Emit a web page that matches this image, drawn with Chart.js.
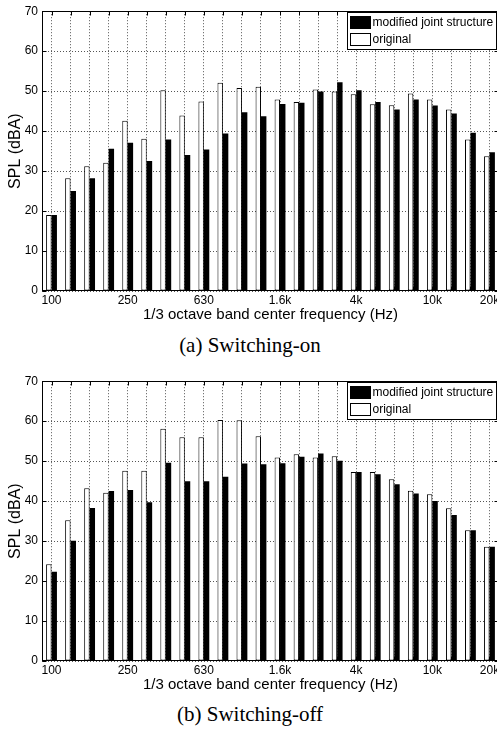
<!DOCTYPE html>
<html>
<head>
<meta charset="utf-8">
<script src="https://cdn.jsdelivr.net/npm/chart.js@4/dist/chart.umd.min.js"></script>
<style>
    body { margin: 0; width: 497px; height: 734px; overflow: hidden; background: #fff; position: relative; }
    .plot { position: absolute; left: 0; width: 520px; height: 330px; }
    .caption { position: absolute; left: 0; width: 500px; text-align: center; font-family: 'Liberation Serif', 'Times New Roman', serif; font-size: 21px; color: #000; }
</style>
</head>
<body>
    <div class="plot" style="top: 0px;"><canvas id="switching_on" width="520" height="330"></canvas></div>
    <div class="caption" style="top: 333px;">(a) Switching-on</div>
    <div class="plot" style="top: 370px;"><canvas id="switching_off" width="520" height="330"></canvas></div>
    <div class="caption" style="top: 702px;">(b) Switching-off</div>

<script>
// 1/3 octave bands, only some get a label on the axis
const bands = ['100', '125', '160', '200', '250', '315', '400', '500', '630', '800', '1k', '1.25k',
    '1.6k', '2k', '2.5k', '3.15k', '4k', '5k', '6.3k', '8k', '10k', '12.5k', '16k', '20k']
const tickLabels = ['100', '250', '630', '1.6k', '4k', '10k', '20k']
const yTicks = [0, 10, 20, 30, 40, 50, 60, 70]

// (a) switching-on, SPL in dBA
const onOriginal = [19, 28.2, 31.2, 32.1, 42.6, 38.1, 50.2, 43.9, 47.4, 52.1, 50.8, 51.1,
    47.9, 47.3, 50.4, 49.9, 49.2, 46.7, 46.5, 49.4, 47.9, 45.4, 37.9, 33.7]
const onModified = [19, 25, 28.2, 35.6, 37.1, 32.5, 37.9, 34, 35.4, 39.4, 44.7, 43.7,
    46.8, 47.1, 49.9, 52.2, 50.2, 47.3, 45.4, 47.9, 46.4, 44.4, 39.6, 34.7]

// (b) switching-off, SPL in dBA
const offOriginal = [24.2, 35.2, 43.2, 42.1, 47.6, 47.6, 58.1, 56, 56, 60.3, 60.2, 56.2,
    50.9, 51.7, 50.9, 51.2, 47.3, 47.3, 45.5, 42.6, 41.7, 38.2, 32.7, 28.6]
const offModified = [22.3, 30.1, 38.3, 42.5, 42.8, 39.7, 49.6, 45, 45, 46.1, 49.4, 49.2,
    49.5, 51.1, 51.9, 50.1, 47.3, 46.7, 44.2, 41.9, 40, 36.5, 32.7, 28.6]

Chart.defaults.font.family = "'Liberation Sans', Arial, sans-serif"
Chart.defaults.color = '#000'

// matlab style box with inward ticks, plus the legend in the top right corner
const matlabBox = {
    id: 'matlabBox',
    afterDatasetsDraw(chart) {
        const { ctx, chartArea: a, scales: { x, y } } = chart
        ctx.save()
        ctx.strokeStyle = '#000'
        ctx.lineWidth = 1
        const l = Math.round(a.left) + 0.5, r = Math.round(a.right) - 0.5
        const t = Math.round(a.top) + 0.5, b = Math.round(a.bottom) - 0.5
        ctx.beginPath()
        bands.forEach((_, i) => {
            const px = Math.round(x.getPixelForTick(i)) + 0.5
            ctx.moveTo(px, b); ctx.lineTo(px, b - 4)
            ctx.moveTo(px, t); ctx.lineTo(px, t + 4)
        })
        yTicks.forEach(v => {
            const py = Math.round(y.getPixelForValue(v)) + 0.5
            ctx.moveTo(l, py); ctx.lineTo(l + 4, py)
            ctx.moveTo(r, py); ctx.lineTo(r - 4, py)
        })
        ctx.stroke()
        ctx.strokeRect(l, t, r - l, b - t)
        ctx.restore()
    },
    afterDraw(chart) {
        const { ctx } = chart
        const sets = chart.data.datasets.slice().reverse()
        const bx = 347.5, by = 12.5, bw = 149, bh = 37
        ctx.save()
        ctx.fillStyle = '#fff'
        ctx.fillRect(bx, by, bw, bh)
        ctx.strokeStyle = '#000'
        ctx.lineWidth = 1
        ctx.strokeRect(bx, by, bw, bh)
        ctx.font = "12px 'Liberation Sans', Arial, sans-serif"
        ctx.textBaseline = 'middle'
        sets.forEach((ds, i) => {
            const sy = by + 4 + i * 17
            ctx.fillStyle = ds.backgroundColor
            ctx.fillRect(bx + 3, sy, 20, 12)
            ctx.strokeRect(bx + 3, sy, 20, 12)
            ctx.fillStyle = '#000'
            ctx.fillText(ds.label, bx + 25, sy + 6.5)
        })
        ctx.restore()
    }
}

function makeChart(id, original, modified) {
    const ctx = document.getElementById(id).getContext('2d')
    return new Chart(ctx, {
        type: 'bar',
        data: {
            labels: bands,
            datasets: [{
                label: 'original',
                data: original,
                backgroundColor: '#ffffff',
                borderColor: '#000000',
                borderWidth: 1,
                borderSkipped: false
            }, {
                label: 'modified joint structure',
                data: modified,
                backgroundColor: '#000000',
                borderColor: '#000000',
                borderWidth: 0
            }]
        },
        options: {
            responsive: false,
            animation: false,
            events: [],
            categoryPercentage: 0.57,
            barPercentage: 1.0,
            layout: { padding: { left: 0, top: 11, right: 21, bottom: 0 } },
            plugins: {
                legend: { display: false },
                tooltip: { enabled: false }
            },
            scales: {
                x: {
                    offset: true,
                    afterFit: s => { s.height = 39 },
                    grid: { offset: false, color: '#555', drawTicks: false, borderDash: [1, 2] },
                    border: { display: false, dash: [1, 2] },
                    ticks: {
                        autoSkip: false,
                        maxRotation: 0,
                        padding: 2,
                        font: { size: 12 },
                        callback: (v, i) => tickLabels.includes(bands[i]) ? bands[i] : ''
                    },
                    title: {
                        display: true,
                        text: '1/3 octave band center frequency (Hz)',
                        font: { size: 15 },
                        padding: { top: 0, bottom: 6 }
                    }
                },
                y: {
                    min: 0,
                    max: 70,
                    afterFit: s => { s.width = 42 },
                    grid: { color: '#555', drawTicks: false, borderDash: [1, 2] },
                    border: { display: false, dash: [1, 2] },
                    ticks: { stepSize: 10, padding: 4, font: { size: 12 } },
                    title: {
                        display: true,
                        text: 'SPL (dBA)',
                        font: { size: 16 },
                        padding: { top: 6, bottom: 0 }
                    }
                }
            }
        },
        plugins: [matlabBox]
    })
}

makeChart('switching_on', onOriginal, onModified)
makeChart('switching_off', offOriginal, offModified)
</script>
</body>
</html>
